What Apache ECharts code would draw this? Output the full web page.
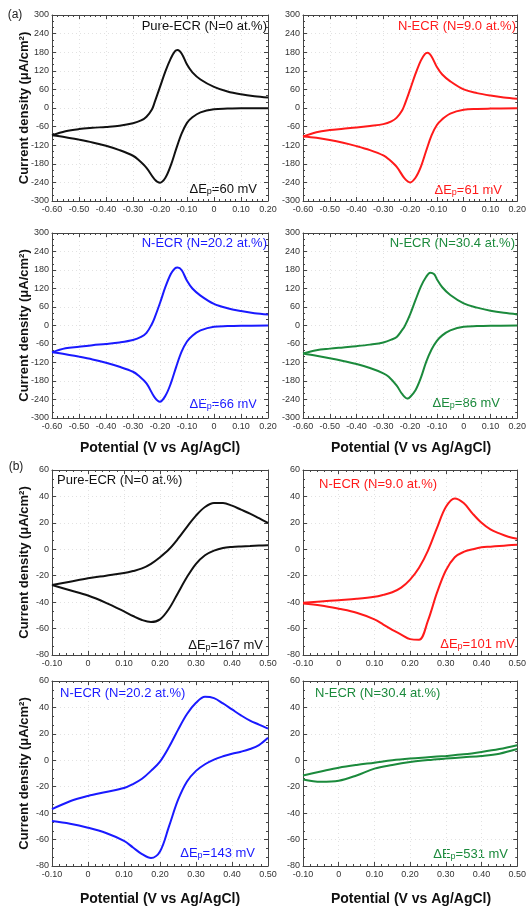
<!DOCTYPE html>
<html>
<head>
<meta charset="utf-8">
<script src="https://cdn.jsdelivr.net/npm/echarts@6/dist/echarts.min.js"></script>
<style>html,body{margin:0;padding:0;background:#fff;}#c{width:529px;height:906px;}</style>
</head>
<body>
<div id="c"></div>
<script>
// ---------- DATA (potential V, current density uA/cm2) ----------
// (a) panels: upper (anodic) and lower (cathodic) branches
const a0Upper = [[-0.60,-88],[-0.55,-75],[-0.50,-68],[-0.45,-64],[-0.40,-61],[-0.35,-57],[-0.30,-49],[-0.27,-40],[-0.25,-28],[-0.23,-5],[-0.22,18],[-0.20,68],[-0.18,118],[-0.16,160],[-0.145,183],[-0.135,187],[-0.12,176],[-0.10,140],[-0.08,115],[-0.05,92],[0.00,68],[0.05,53],[0.10,44],[0.15,38],[0.20,34]];
const a0Lower = [[0.20,-1],[0.10,-1],[0.05,-2],[0.00,-4],[-0.05,-14],[-0.08,-30],[-0.10,-48],[-0.12,-83],[-0.14,-132],[-0.16,-185],[-0.18,-225],[-0.20,-241],[-0.22,-230],[-0.25,-193],[-0.28,-167],[-0.30,-154],[-0.35,-136],[-0.40,-122],[-0.45,-111],[-0.50,-102],[-0.55,-94],[-0.60,-88]];
const a9Upper = [[-0.60,-92],[-0.55,-78],[-0.50,-71],[-0.45,-67],[-0.40,-63],[-0.35,-58],[-0.30,-52],[-0.27,-43],[-0.25,-31],[-0.23,-8],[-0.22,12],[-0.20,60],[-0.18,110],[-0.16,153],[-0.145,174],[-0.135,178],[-0.12,166],[-0.10,132],[-0.08,108],[-0.05,86],[0.00,60],[0.05,48],[0.10,40],[0.15,34],[0.20,30]];
const a9Lower = [[0.20,-1],[0.10,-2],[0.05,-3],[0.00,-6],[-0.05,-18],[-0.08,-36],[-0.10,-55],[-0.12,-88],[-0.14,-138],[-0.16,-190],[-0.18,-225],[-0.20,-240],[-0.22,-228],[-0.25,-190],[-0.28,-165],[-0.30,-153],[-0.35,-136],[-0.40,-123],[-0.45,-112],[-0.50,-103],[-0.55,-96],[-0.60,-92]];
const a20Upper = [[-0.60,-87],[-0.55,-74],[-0.50,-69],[-0.45,-64],[-0.40,-60],[-0.35,-55],[-0.30,-47],[-0.27,-37],[-0.25,-24],[-0.23,5],[-0.22,25],[-0.20,73],[-0.18,125],[-0.16,167],[-0.145,185],[-0.135,188],[-0.12,180],[-0.10,145],[-0.08,120],[-0.05,97],[0.00,70],[0.05,56],[0.10,47],[0.15,40],[0.20,36]];
const a20Lower = [[0.20,0],[0.10,-1],[0.05,-2],[0.00,-4],[-0.05,-16],[-0.08,-33],[-0.10,-52],[-0.12,-85],[-0.14,-134],[-0.16,-188],[-0.18,-228],[-0.20,-247],[-0.22,-233],[-0.25,-188],[-0.28,-162],[-0.30,-150],[-0.35,-134],[-0.40,-121],[-0.45,-110],[-0.50,-101],[-0.55,-93],[-0.60,-87]];
const a30Upper = [[-0.60,-91],[-0.55,-80],[-0.50,-75],[-0.45,-71],[-0.40,-67],[-0.35,-62],[-0.30,-55],[-0.27,-46],[-0.25,-37],[-0.23,-15],[-0.22,-2],[-0.20,36],[-0.18,82],[-0.16,126],[-0.14,158],[-0.125,171],[-0.11,166],[-0.10,150],[-0.08,124],[-0.05,99],[0.00,72],[0.05,58],[0.10,48],[0.15,41],[0.20,36]];
const a30Lower = [[0.20,0],[0.10,-1],[0.05,-2],[0.00,-4],[-0.05,-16],[-0.08,-32],[-0.10,-50],[-0.12,-78],[-0.14,-118],[-0.16,-170],[-0.18,-210],[-0.20,-232],[-0.21,-237],[-0.23,-222],[-0.25,-195],[-0.28,-166],[-0.30,-155],[-0.35,-138],[-0.40,-125],[-0.45,-115],[-0.50,-106],[-0.55,-98],[-0.60,-91]];
// (b) panels
const b0Upper = [[-0.10,-27],[-0.05,-24.5],[0.00,-22],[0.05,-20],[0.10,-18],[0.125,-16.5],[0.15,-14.5],[0.175,-11],[0.20,-6],[0.225,0],[0.25,8],[0.275,17],[0.30,25.5],[0.325,32],[0.35,35],[0.375,35],[0.40,33],[0.425,30],[0.45,27],[0.475,23.5],[0.50,20]];
const b0Lower = [[0.50,3],[0.475,2.8],[0.45,2.5],[0.425,2.2],[0.40,1.8],[0.375,1],[0.35,-1],[0.325,-4.5],[0.30,-11],[0.275,-21],[0.25,-33],[0.225,-45],[0.20,-53],[0.175,-55],[0.15,-53.5],[0.125,-50.5],[0.10,-47],[0.05,-40.5],[0.00,-35],[-0.05,-31],[-0.10,-27]];
const b9Upper = [[-0.10,-40.5],[-0.05,-39.5],[0.00,-38.5],[0.05,-37.5],[0.10,-36],[0.125,-34.5],[0.15,-32.5],[0.175,-29],[0.20,-23],[0.225,-14],[0.25,-1],[0.275,16],[0.30,32],[0.325,38.5],[0.35,35],[0.375,27],[0.40,20],[0.425,15],[0.45,12],[0.475,9.5],[0.50,8]];
const b9Lower = [[0.50,3.5],[0.475,3],[0.45,2.5],[0.425,2],[0.40,1.5],[0.375,0],[0.35,-2],[0.325,-6],[0.30,-16],[0.275,-33],[0.25,-54],[0.225,-68.5],[0.20,-68],[0.175,-64.5],[0.15,-61],[0.125,-57],[0.10,-53],[0.05,-48],[0.00,-45],[-0.05,-42.5],[-0.10,-41]];
const b20Upper = [[-0.10,-37],[-0.05,-31],[0.00,-27],[0.05,-24],[0.10,-21],[0.125,-18],[0.15,-14],[0.175,-8],[0.20,-1],[0.225,10],[0.25,23],[0.275,35],[0.30,43.5],[0.325,48],[0.35,47],[0.375,43],[0.40,38.5],[0.425,34],[0.45,30],[0.475,27],[0.50,24]];
const b20Lower = [[0.50,17],[0.475,11.5],[0.45,8.5],[0.425,6.5],[0.40,5],[0.375,3],[0.35,0.5],[0.325,-3],[0.30,-8],[0.275,-16],[0.25,-30],[0.225,-50],[0.20,-69],[0.175,-74],[0.15,-71],[0.125,-66],[0.10,-61],[0.05,-55],[0.00,-51],[-0.05,-48],[-0.10,-46]];
const b30Upper = [[-0.10,-11.5],[-0.05,-8.5],[0.00,-5.6],[0.05,-3.5],[0.10,-1.8],[0.15,0],[0.20,1.3],[0.25,2.3],[0.30,3.3],[0.35,4.5],[0.40,6.3],[0.45,8.5],[0.50,11.4]];
const b30Lower = [[0.50,8.5],[0.45,5],[0.40,3.3],[0.35,2.3],[0.30,1.3],[0.25,0.2],[0.20,-1.3],[0.15,-3.5],[0.10,-6.3],[0.05,-11.5],[0.00,-15.5],[-0.05,-16.3],[-0.10,-14.5]];

const xRangeA = [-0.6, 0.2], yRangeA = [-300, 300], yIntA = 60;
const xRangeB = [-0.1, 0.5], yRangeB = [-80, 60], yIntB = 20;
const sampleNames = ['Pure-ECR (N=0 at.%)', 'N-ECR (N=9.0 at.%)', 'N-ECR (N=20.2 at.%)', 'N-ECR (N=30.4 at.%)'];
const dEpA = ['60', '61', '66', '86'];
const dEpB = ['167', '101', '143', '531'];
const xTitle = 'Potential (V vs Ag/AgCl)';
const yTitle = 'Current density (\u03bcA/cm\u00b2)';

// ---------- LAYOUT ----------
const colors = ['#111111', '#ff1a1a', '#1a1aff', '#1b8a3c'];
// nm: [offset from edge, y offset from top]; dp: [gap from right, y offset from bottom]
const panels = [
  {g:{left:52, top:15, width:216, height:186}, x:xRangeA, y:yRangeA, yi:yIntA, up:a0Upper, lo:a0Lower, c:0, nameAlign:'right', dep:dEpA[0], nm:[1,11], dp:[11,12]},
  {g:{left:303, top:15, width:216, height:186}, x:xRangeA, y:yRangeA, yi:yIntA, up:a9Upper, lo:a9Lower, c:1, nameAlign:'right', dep:dEpA[1], nm:[3,11], dp:[17,11]},
  {g:{left:52, top:233, width:216, height:185}, x:xRangeA, y:yRangeA, yi:yIntA, up:a20Upper, lo:a20Lower, c:2, nameAlign:'right', dep:dEpA[2], nm:[1,10], dp:[11,14]},
  {g:{left:303, top:233, width:216, height:185}, x:xRangeA, y:yRangeA, yi:yIntA, up:a30Upper, lo:a30Lower, c:3, nameAlign:'right', dep:dEpA[3], nm:[4,10], dp:[19,15]},
  {g:{left:52, top:470, width:216, height:185}, x:xRangeB, y:yRangeB, yi:yIntB, up:b0Upper, lo:b0Lower, c:0, nameAlign:'left', dep:dEpB[0], nm:[5,10], dp:[5,10]},
  {g:{left:303, top:470, width:216, height:185}, x:xRangeB, y:yRangeB, yi:yIntB, up:b9Upper, lo:b9Lower, c:1, nameAlign:'left', dep:dEpB[1], nm:[16,14], dp:[4,11]},
  {g:{left:52, top:681, width:216, height:185}, x:xRangeB, y:yRangeB, yi:yIntB, up:b20Upper, lo:b20Lower, c:2, nameAlign:'left', dep:dEpB[2], nm:[8,12], dp:[13,13]},
  {g:{left:303, top:681, width:216, height:185}, x:xRangeB, y:yRangeB, yi:yIntB, up:b30Upper, lo:b30Lower, c:3, nameAlign:'left', dep:dEpB[3], nm:[12,12], dp:[11,12]}
];

const tickFont = 'Liberation Sans Narrow, Arial Narrow, Liberation Sans, Arial, sans-serif';
const mainFont = 'Liberation Sans, Arial, Helvetica, sans-serif';
const axisColor = '#444';
const grid = [], xAxis = [], yAxis = [], series = [], graphic = [];

function fmtX(v){ if (Math.abs(v) < 1e-9) return '0'; return v.toFixed(2); }

panels.forEach((p, i) => {
  grid.push(Object.assign({containLabel:false}, p.g));
  const common = {
    type:'value', gridIndex:i,
    axisLine:{show:true, onZero:false, lineStyle:{color:axisColor, width:1}},
    axisTick:{show:true, inside:true, length:4, lineStyle:{color:axisColor}},
    minorTick:{show:true, splitNumber:5, length:2, lineStyle:{color:axisColor}},
    axisLabel:{show:false},
    splitLine:{show:false}
  };
  xAxis.push(Object.assign({}, common, {
    position:'bottom', min:p.x[0], max:p.x[1], interval:0.1,
    axisLabel:{show:true, formatter:fmtX, fontSize:9, color:'#333', fontFamily:tickFont, margin:4,
      showMinLabel:true, showMaxLabel:true},
    splitLine:{show:true, lineStyle:{type:[1,3], color:'#e2e2e2', width:1}}
  }));
  xAxis.push(Object.assign({}, common, {position:'top', min:p.x[0], max:p.x[1], interval:0.1}));
  yAxis.push(Object.assign({}, common, {
    position:'left', min:p.y[0], max:p.y[1], interval:p.yi,
    minorTick:{show:true, splitNumber:3, length:2, lineStyle:{color:axisColor}},
    axisLabel:{show:true, fontSize:9, color:'#333', fontFamily:tickFont, margin:3},
    splitLine:{show:true, lineStyle:{type:[1,3], color:'#e2e2e2', width:1}}
  }));
  yAxis.push(Object.assign({}, common, {position:'right', min:p.y[0], max:p.y[1], interval:p.yi,
    minorTick:{show:true, splitNumber:3, length:2, lineStyle:{color:axisColor}}}));
  [p.up, p.lo].forEach(d => series.push({
    type:'line', xAxisIndex:2*i, yAxisIndex:2*i, data:d, showSymbol:false, smooth:0.35,
    lineStyle:{color:colors[p.c], width:2}, itemStyle:{color:colors[p.c]}, silent:true, animation:false, clip:true
  }));
  const col = colors[p.c];
  const g = p.g;
  if (p.nameAlign === 'right') {
    graphic.push({type:'text', x:g.left + g.width - p.nm[0], y:g.top + p.nm[1],
      style:{text:sampleNames[p.c], fill:col, font:'13px ' + mainFont, align:'right', verticalAlign:'middle'}});
  } else {
    graphic.push({type:'text', x:g.left + p.nm[0], y:g.top + p.nm[1],
      style:{text:sampleNames[p.c], fill:col, font:'13px ' + mainFont, align:'left', verticalAlign:'middle'}});
  }
  graphic.push({type:'text', x:g.left + g.width - p.dp[0], y:g.top + g.height - p.dp[1],
    style:{text:'{n|\u0394E}{s|p}{n|=' + p.dep + ' mV}', align:'right', verticalAlign:'middle',
      rich:{n:{fontSize:13, fontFamily:mainFont, fill:col, color:col}, s:{fontSize:9, fontFamily:mainFont, fill:col, color:col, padding:[6,0,0,0]}}}});
});

[[15,186],[233,185],[470,185],[681,185]].forEach(t => {
  graphic.push({type:'text', x:24, y:t[0] + t[1]/2, rotation:Math.PI/2,
    style:{text:yTitle, fill:'#111', font:'bold 13px ' + mainFont, align:'center', verticalAlign:'middle'}});
});
[[160,448],[411,448],[160,899],[411,899]].forEach(t => {
  graphic.push({type:'text', x:t[0], y:t[1],
    style:{text:xTitle, fill:'#111', font:'bold 14px ' + mainFont, align:'center', verticalAlign:'middle'}});
});
graphic.push({type:'text', x:15, y:15, style:{text:'(a)', fill:'#222', font:'12px ' + mainFont, align:'center', verticalAlign:'middle'}});
graphic.push({type:'text', x:16, y:467, style:{text:'(b)', fill:'#222', font:'12px ' + mainFont, align:'center', verticalAlign:'middle'}});

const chart = echarts.init(document.getElementById('c'), null, {renderer:'canvas'});
chart.setOption({backgroundColor:'#fff', animation:false, grid, xAxis, yAxis, series, graphic});
</script>
</body>
</html>
